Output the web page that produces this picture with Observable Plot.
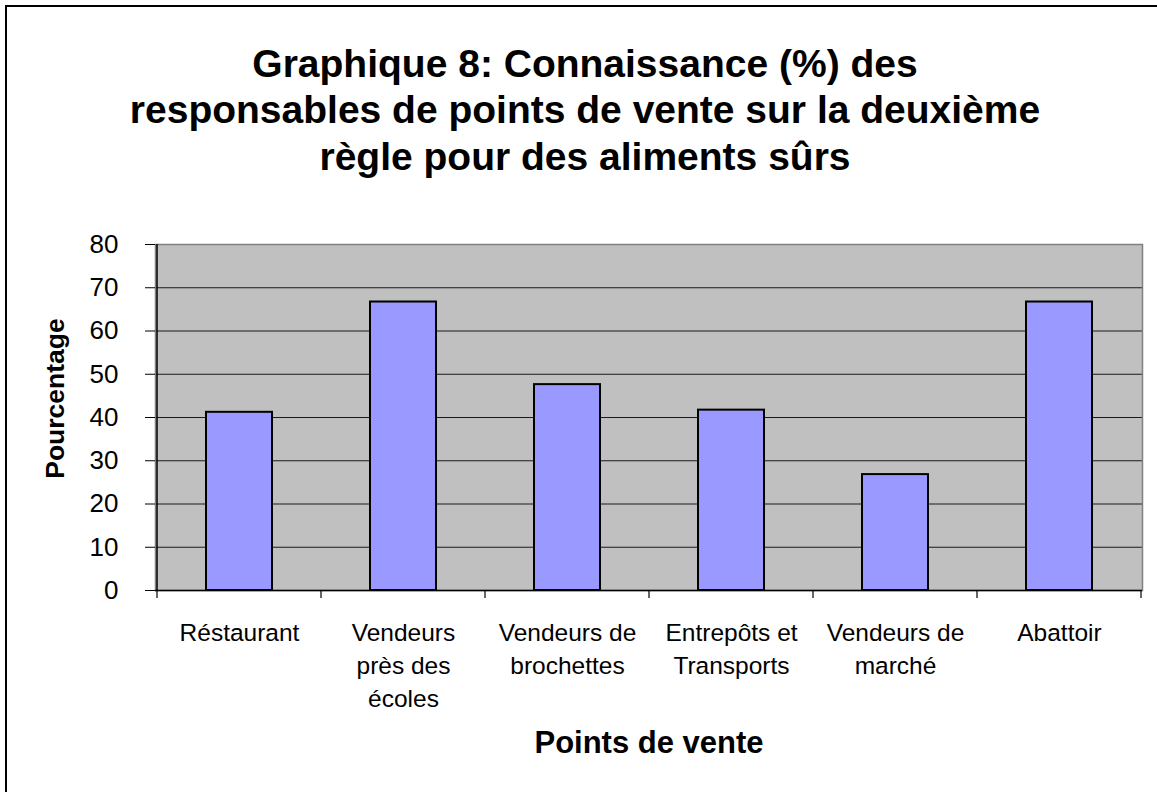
<!DOCTYPE html>
<html><head><meta charset="utf-8">
<script src="https://cdn.jsdelivr.net/npm/d3@7"></script>
<script src="https://cdn.jsdelivr.net/npm/@observablehq/plot@0.6"></script>
<style>
html,body{margin:0;padding:0;background:#fff;overflow:hidden}
#wrap{position:relative;width:1157px;height:792px;overflow:hidden}
#border{position:absolute;left:5px;top:5px;width:1200px;height:900px;border-left:2px solid #000;border-top:2px solid #000;pointer-events:none}
</style></head><body>
<div id="wrap"><div id="chart"></div><div id="border"></div></div>
<script>
const categories = ["Réstaurant", "Vendeurs près des écoles", "Vendeurs de brochettes", "Entrepôts et Transports", "Vendeurs de marché", "Abattoir"];
const tickLabels = ["Réstaurant", "Vendeurs\nprès des\nécoles", "Vendeurs de\nbrochettes", "Entrepôts et\nTransports", "Vendeurs de\nmarché", "Abattoir"];
const values = [41.2, 66.7, 47.6, 41.7, 26.8, 66.7];
const yTicks = [0, 10, 20, 30, 40, 50, 60, 70, 80];
const title = "Graphique 8: Connaissance (%) des\nresponsables de points de vente sur la deuxième\nrègle pour des aliments sûrs";
const xTitle = "Points de vente";
const yTitle = "Pourcentage";

const data = categories.map((c, i) => ({category: c, value: values[i]}));
const labelOf = new Map(categories.map((c, i) => [c, tickLabels[i]]));
const font = "Arial, 'Liberation Sans', sans-serif";

function axisLines(index, scales) {
  const x = scales.x, y = scales.y;
  const bw = typeof x.bandwidth === "function" ? x.bandwidth() : x.bandwidth;
  const step = x(categories[1]) - x(categories[0]);
  const left = x(categories[0]) - (step - bw) / 2;
  const y0 = y(yTicks[0]), y1 = y(yTicks[yTicks.length - 1]);
  const g = d3.create("svg:g").attr("stroke", "#000").attr("fill", "none");
  g.append("line").attr("x1", left).attr("x2", left).attr("y1", y0).attr("y2", y1).attr("stroke-width", 1.5);
  for (let i = 0; i <= categories.length; i++) {
    const xb = left + i * step;
    g.append("line").attr("x1", xb).attr("x2", xb).attr("y1", y0).attr("y2", y0 + 8).attr("stroke-width", 1.2);
  }
  return g.node();
}

const chart = Plot.plot({
  width: 1157, height: 792,
  marginLeft: 155, marginRight: 15, marginTop: 244, marginBottom: 202,
  style: {fontFamily: font, background: "transparent", overflow: "visible", color: "#000"},
  x: {domain: categories, paddingInner: 0.6, paddingOuter: 0.3, axis: null},
  y: {domain: [0, 80], axis: null},
  marks: [
    Plot.frame({fill: "#c0c0c0"}),
    Plot.ruleY(yTicks.filter(v => v > 0 && v < 80), {stroke: "#1a1a1a", strokeWidth: 1}),
    Plot.frame({stroke: "#808080", strokeWidth: 1.5}),
    Plot.barY(data, {x: "category", y: "value", fill: "#9999ff", stroke: "#000", strokeWidth: 2}),
    Plot.ruleY([0], {stroke: "#000", strokeWidth: 1.5}),
    axisLines,
    Plot.axisY({ticks: yTicks, tickSize: 10, tickPadding: 27, fontSize: 26, stroke: "#000", fill: "#000", label: null}),
    Plot.axisX({tickSize: 0, tickPadding: 27, tickFormat: d => labelOf.get(d), fontSize: 24.5, lineHeight: 1.35, fill: "#000", label: null}),
    Plot.text([title], {text: d => d, frameAnchor: "top", dx: -64, dy: -136, fontSize: 39, fontWeight: "bold", lineHeight: 1.2, textAnchor: "middle", lineAnchor: "middle", fill: "#000"}),
    Plot.text([yTitle], {text: d => d, frameAnchor: "left", dx: -100, dy: -19, rotate: -90, fontSize: 26.5, fontWeight: "bold", textAnchor: "middle", lineAnchor: "middle", fill: "#000"}),
    Plot.text([xTitle], {text: d => d, frameAnchor: "bottom", dy: 153, fontSize: 31, fontWeight: "bold", textAnchor: "middle", lineAnchor: "middle", fill: "#000"})
  ]
});
document.getElementById("chart").appendChild(chart);
</script>
</body></html>
